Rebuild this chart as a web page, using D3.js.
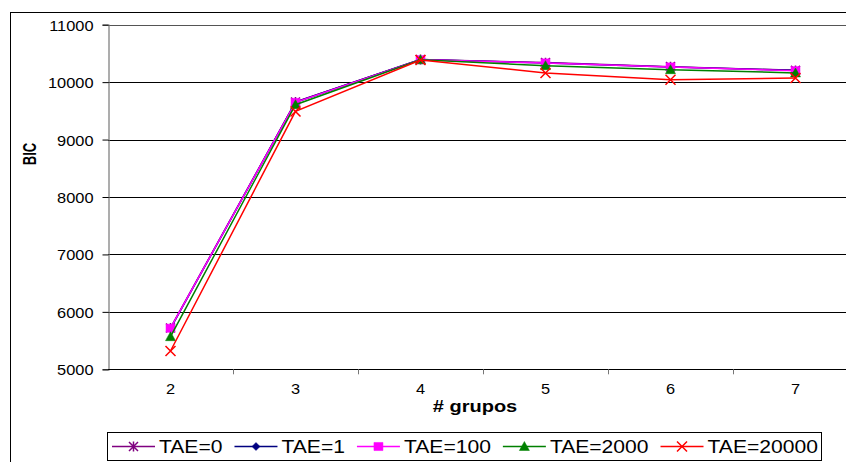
<!DOCTYPE html>
<meta charset="utf-8">
<title>BIC por # grupos</title>
<style>
body { margin: 0; background: #fff; }
text { font-family: "Liberation Sans", Arial, sans-serif; fill: #000; }
</style>
<svg width="846" height="462"></svg>
<script src="https://cdn.jsdelivr.net/npm/d3@7"></script>
<script>

// categories and series
var grupos = ["2", "3", "4", "5", "6", "7"];
var seriesNames = ["TAE=0", "TAE=1", "TAE=100", "TAE=2000", "TAE=20000"];
var tae0     = [5720, 9655, 10395, 10340, 10270, 10205];
var tae1     = [5710, 9650, 10392, 10335, 10265, 10205];
var tae100   = [5715, 9647, 10391, 10334, 10264, 10200];
var tae2000  = [5568, 9607, 10388, 10287, 10217, 10160];
var tae20000 = [5319, 9490, 10385, 10160, 10043, 10072];
var yTicks = [5000, 6000, 7000, 8000, 9000, 10000, 11000];

var colors = ["#800080", "#000080", "#ff00ff", "#008000", "#ff0000"];
var markers = ["star", "diamond", "square", "triangle", "x"];
var series = [tae0, tae1, tae100, tae2000, tae20000].map(function(v, i) {
  return { name: seriesNames[i], values: v, color: colors[i], marker: markers[i] };
});

var svg = d3.select("svg");

// text in the picture looks horizontally stretched
var SX = 1.17;

var plot = { left: 108, right: 858, top: 24.7, bottom: 369.3 };

var x = d3.scaleBand().domain(grupos).range([plot.left, plot.right]);
var y = d3.scaleLinear().domain([5000, 11000]).range([plot.bottom, plot.top]);

// outer chart border (runs past the bottom/right edge)
svg.append("rect")
  .attr("x", 10.5).attr("y", 12.5)
  .attr("width", 900).attr("height", 500)
  .attr("fill", "none").attr("stroke", "#000");

// gridlines
svg.append("g").selectAll("line")
  .data(yTicks)
  .enter().append("line")
    .attr("x1", plot.left).attr("x2", plot.right)
    .attr("y1", function(d) { return Math.round(y(d)) + 0.5; })
    .attr("y2", function(d) { return Math.round(y(d)) + 0.5; })
    .attr("stroke", function(d) { return d == 11000 ? "#555" : "#000"; })
    .attr("stroke-width", 1.2);

// y axis
var yAxis = svg.append("g")
  .attr("transform", "translate(" + (plot.left + 0.5) + ",0)")
  .call(d3.axisLeft(y).tickValues(yTicks).tickSize(6).tickPadding(9).tickFormat(d3.format("d")));
yAxis.select(".domain").attr("stroke", "#777").attr("stroke-width", 1.2);
yAxis.selectAll(".tick line").attr("stroke", "#000");
yAxis.selectAll(".tick text")
  .attr("font-size", 14).attr("font-family", null)
  .each(function() {
    var t = d3.select(this);
    var tx = +t.attr("x");
    t.attr("x", 0).attr("dy", null).attr("y", 0)
     .attr("transform", "translate(" + tx + ",5.5) scale(" + SX + ",1)");
  });

// x axis: ticks between categories
var xg = svg.append("g");
xg.append("line")
  .attr("x1", plot.left).attr("x2", plot.right)
  .attr("y1", Math.round(plot.bottom) + 0.5).attr("y2", Math.round(plot.bottom) + 0.5)
  .attr("stroke", "#000").attr("stroke-width", 1.2);
xg.selectAll(".xtick")
  .data(grupos.slice(1))
  .enter().append("line")
    .attr("class", "xtick")
    .attr("x1", function(d) { return Math.round(x(d)) + 0.5; })
    .attr("x2", function(d) { return Math.round(x(d)) + 0.5; })
    .attr("y1", plot.bottom).attr("y2", plot.bottom + 5)
    .attr("stroke", "#777");
xg.selectAll(".xlabel")
  .data(grupos)
  .enter().append("text")
    .attr("class", "xlabel")
    .attr("text-anchor", "middle")
    .attr("font-size", 14)
    .attr("transform", function(d) {
      return "translate(" + (x(d) + x.bandwidth() / 2) + ",393.5) scale(" + SX + ",1)";
    })
    .text(function(d) { return d; });

// axis titles
svg.append("text")
  .attr("text-anchor", "middle")
  .attr("font-size", 16).attr("font-weight", "bold")
  .attr("transform", "translate(475,412) scale(1.25,1)")
  .text("# grupos");

svg.append("text")
  .attr("text-anchor", "middle")
  .attr("font-size", 16).attr("font-weight", "bold")
  .attr("transform", "translate(36,154) rotate(-90) scale(0.82," + SX + ")")
  .text("BIC");

// marker shapes
function markerPath(type, s) {
  var h = s / 2;
  if (type == "square") return "M" + (-h) + "," + (-h * 0.9) + "H" + h + "V" + (h * 0.9) + "H" + (-h) + "Z";
  if (type == "diamond") return "M0," + (-h) + "L" + h + ",0L0," + h + "L" + (-h) + ",0Z";
  if (type == "triangle") return "M0," + (-h) + "L" + h + "," + (h * 0.8) + "L" + (-h) + "," + (h * 0.8) + "Z";
  if (type == "x") return "M" + (-h) + "," + (-h) + "L" + h + "," + h + "M" + h + "," + (-h) + "L" + (-h) + "," + h;
  // star
  return "M" + (-h) + "," + (-h) + "L" + h + "," + h + "M" + h + "," + (-h) + "L" + (-h) + "," + h +
         "M0," + (-h * 1.1) + "V" + (h * 1.1);
}
function markerSize(type) {
  return { square: 9, diamond: 8, triangle: 10, x: 10, star: 9 }[type];
}
function drawMarker(sel, d) {
  var filled = d.marker == "square" || d.marker == "diamond" || d.marker == "triangle";
  sel.attr("d", markerPath(d.marker, markerSize(d.marker)))
    .attr("fill", filled ? d.color : "none")
    .attr("stroke", d.color)
    .attr("stroke-width", filled ? 0.5 : 1.5);
}

var line = d3.line()
  .x(function(d, i) { return x(grupos[i]) + x.bandwidth() / 2; })
  .y(function(d) { return y(d); });

var sg = svg.append("g").selectAll("g")
  .data(series)
  .enter().append("g");

sg.append("path")
  .attr("d", function(d) { return line(d.values); })
  .attr("fill", "none")
  .attr("stroke", function(d) { return d.color; })
  .attr("stroke-width", 1.5);

sg.each(function(s) {
  d3.select(this).selectAll(".pt")
    .data(s.values)
    .enter().append("path")
      .attr("class", "pt")
      .attr("transform", function(v, i) {
        return "translate(" + (x(grupos[i]) + x.bandwidth() / 2) + "," + y(v) + ")";
      })
      .each(function() { drawMarker(d3.select(this), s); });
});

// legend
var legend = svg.append("g");
legend.append("rect")
  .attr("x", 107.5).attr("y", 432.5)
  .attr("width", 714).attr("height", 28)
  .attr("fill", "#fff").attr("stroke", "#000");

var lx = 112, ly = 446.5, LS = 1.14;
series.forEach(function(s) {
  var item = legend.append("g");
  item.append("line")
    .attr("x1", lx).attr("x2", lx + 43)
    .attr("y1", ly).attr("y2", ly)
    .attr("stroke", s.color).attr("stroke-width", 1.5);
  item.append("path")
    .attr("transform", "translate(" + (lx + 21.5) + "," + ly + ")")
    .call(drawMarker, s);
  var t = item.append("text")
    .attr("font-size", 18.5)
    .attr("transform", "translate(" + (lx + 47) + "," + (ly + 6.8) + ") scale(" + LS + ",1)")
    .text(s.name);
  lx += 47 + t.node().getComputedTextLength() * LS + 12;
});

</script>
